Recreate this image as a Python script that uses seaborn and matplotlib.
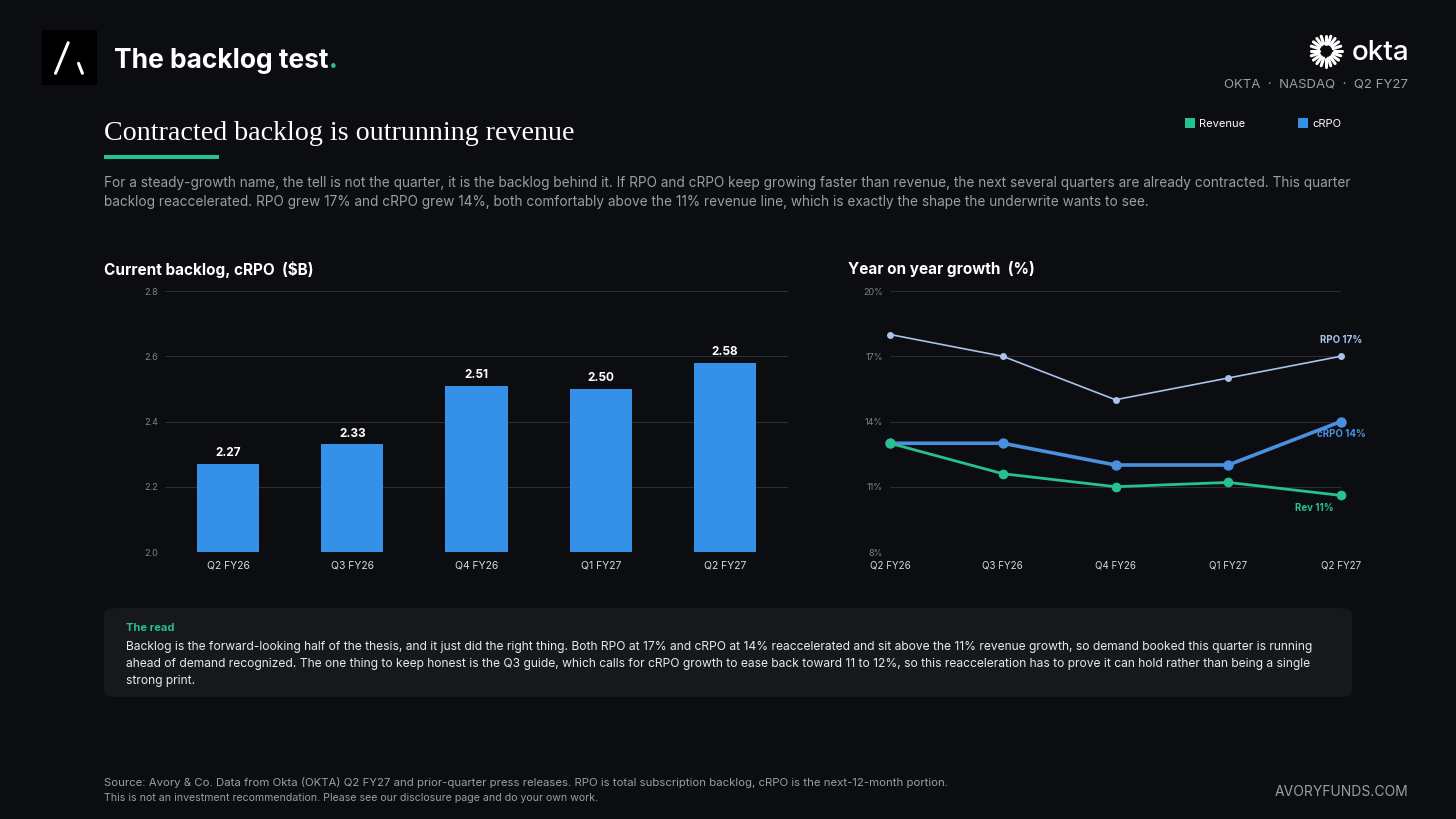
import numpy as np
import pandas as pd
import seaborn as sns
import matplotlib as mpl
from matplotlib import pyplot as plt
from matplotlib.patches import FancyBboxPatch, Rectangle

# data
quarters = ['Q2 FY26', 'Q3 FY26', 'Q4 FY26', 'Q1 FY27', 'Q2 FY27']
crpo_bn = [2.27, 2.33, 2.51, 2.50, 2.58]
rpo_growth = [18, 17, 15, 16, 17]
crpo_growth = [13, 13, 12, 12, 14]
rev_growth = [13, 11.6, 11, 11.2, 10.6]
bar_ticks = [2.0, 2.2, 2.4, 2.6, 2.8]
growth_ticks = [8, 11, 14, 17, 20]

BG = '#0c0d10'
GREEN = '#27c08f'
BLUE = '#3590e8'
CRPO_BLUE = '#4a8fe0'
RPO_BLUE = '#a9c2ec'
GRID = '#2a2d33'
GREY = '#9a9ea6'

sns.set_theme(style='dark')
plt.rcParams['font.family'] = ['Inter', 'DejaVu Sans']

W, H = 1456, 819
fig = plt.figure(figsize=(W / 100, H / 100), dpi=100, facecolor=BG)


def px(x, y):
    return x / W, 1 - y / H


def box(l, t, r, b):
    return [l / W, 1 - b / H, (r - l) / W, (b - t) / H]


def style_axes(ax):
    ax.set_facecolor(BG)
    for s in ax.spines.values():
        s.set_visible(False)
    ax.grid(axis='y', color=GRID, linewidth=0.8)
    ax.grid(axis='x', visible=False)
    ax.set_axisbelow(True)
    ax.set_xlabel('')
    ax.set_ylabel('')
    ax.tick_params(axis='y', colors='#7d828b', labelsize=6.5, length=0, pad=5)
    ax.tick_params(axis='x', colors='#d6d9de', labelsize=7.5, length=0, pad=6)


# ---- header ----
fig.patches.append(Rectangle(px(42, 85), 55 / W, 55 / H, transform=fig.transFigure,
                             facecolor='#000000', edgecolor='none'))
fig.lines.append(mpl.lines.Line2D([55.5 / W, 68.2 / W], [1 - 73.3 / H, 1 - 42.7 / H],
                                  transform=fig.transFigure, color='white', lw=2.2))
fig.lines.append(mpl.lines.Line2D([78.5 / W, 82.4 / W], [1 - 63.3 / H, 1 - 73.3 / H],
                                  transform=fig.transFigure, color='white', lw=2.2))

title = fig.text(*px(114, 61), 'The backlog test', color='white', fontsize=19,
                 fontweight='bold', va='center', ha='left')
fig.canvas.draw()
bb = title.get_window_extent()
fig.text(bb.x1 / W, 1 - 61 / H, '.', color=GREEN, fontsize=19, fontweight='bold',
         va='center', ha='left')

# okta mark
cx, cy = 1326, 51
for a in np.linspace(0, 2 * np.pi, 20, endpoint=False):
    x0, y0 = cx + 7.5 * np.cos(a), cy + 7.5 * np.sin(a)
    x1, y1 = cx + 15.5 * np.cos(a), cy + 15.5 * np.sin(a)
    fig.lines.append(mpl.lines.Line2D([x0 / W, x1 / W], [1 - y0 / H, 1 - y1 / H],
                                      transform=fig.transFigure, color='white', lw=2.2))
fig.text(*px(1409, 53), 'okta', color='white', fontsize=20, fontweight='medium',
         ha='right', va='center')
fig.text(*px(1408, 85), 'OKTA  ·  NASDAQ  ·  Q2 FY27', color=GREY, fontsize=9.5,
         ha='right', va='center')

fig.text(*px(104, 134), 'Contracted backlog is outrunning revenue', color='white',
         fontsize=20.2, family='Liberation Serif', va='center', ha='left')
fig.patches.append(Rectangle(px(104, 159), 115 / W, 4 / H, transform=fig.transFigure,
                             facecolor=GREEN, edgecolor='none'))

# legend
fig.patches.append(Rectangle(px(1185, 128), 10 / W, 10 / H, transform=fig.transFigure,
                             facecolor=GREEN, edgecolor='none'))
fig.text(*px(1199, 124), 'Revenue', color='white', fontsize=8, va='center')
fig.patches.append(Rectangle(px(1298, 128), 10 / W, 10 / H, transform=fig.transFigure,
                             facecolor=BLUE, edgecolor='none'))
fig.text(*px(1312, 124), 'cRPO', color='white', fontsize=8, va='center')

intro = [
    'For a steady-growth name, the tell is not the quarter, it is the backlog behind it. '
    'If RPO and cRPO keep growing faster than revenue, the next several quarters are already contracted. This quarter',
    'backlog reaccelerated. RPO grew 17% and cRPO grew 14%, both comfortably above the 11% '
    'revenue line, which is exactly the shape the underwrite wants to see.',
]
for i, line in enumerate(intro):
    fig.text(*px(104, 183 + 19 * i), line, color=GREY, fontsize=9.8, va='center')

# ---- bar chart ----
fig.text(*px(104, 269), 'Current backlog, cRPO  ($B)', color='white', fontsize=11,
         fontweight='bold', va='center')
ax1 = fig.add_axes(box(165, 291, 788, 552))
bars = pd.DataFrame({'quarter': quarters, 'crpo': crpo_bn})
sns.barplot(data=bars, x='quarter', y='crpo', color=BLUE, saturation=1, width=0.5,
            linewidth=0, ax=ax1)
style_axes(ax1)
ax1.set_ylim(2.0, 2.8)
ax1.set_yticks(bar_ticks)
ax1.set_yticklabels([f'{t:.1f}' for t in bar_ticks])
ax1.set_xlim(-0.507, 4.507)
for i, v in enumerate(crpo_bn):
    ax1.annotate(f'{v:.2f}', (i, v), xytext=(0, 7.5), textcoords='offset points',
                 ha='center', va='center', color='white', fontsize=8.5, fontweight='bold')

# ---- growth lines ----
fig.text(*px(848, 269), 'Year on year growth  (%)', color='white', fontsize=11,
         fontweight='bold', va='center')
ax2 = fig.add_axes(box(890, 291, 1341, 552))
growth = pd.DataFrame({'quarter': quarters, 'rpo': rpo_growth,
                       'crpo': crpo_growth, 'rev': rev_growth})
sns.lineplot(data=growth, x='quarter', y='rpo', color=RPO_BLUE, lw=1.2, marker='o',
             markersize=5, markeredgewidth=0, ax=ax2, clip_on=False)
sns.lineplot(data=growth, x='quarter', y='crpo', color=CRPO_BLUE, lw=2.6, marker='o',
             markersize=7.5, markeredgewidth=0, ax=ax2, clip_on=False)
sns.lineplot(data=growth, x='quarter', y='rev', color=GREEN, lw=2, marker='o',
             markersize=7, markeredgewidth=0, ax=ax2, clip_on=False)
style_axes(ax2)
ax2.set_ylim(8, 20)
ax2.set_yticks(growth_ticks)
ax2.set_yticklabels([f'{t}%' for t in growth_ticks])
ax2.set_xlim(0, 4)
ax2.tick_params(axis='x', labelsize=7, pad=6)
ax2.annotate(f'RPO {rpo_growth[-1]}%', (4, rpo_growth[-1]), xytext=(0, 12),
             textcoords='offset points', ha='center', va='center', color=RPO_BLUE,
             fontsize=7, fontweight='bold', annotation_clip=False)
ax2.annotate(f'cRPO {crpo_growth[-1]}%', (4, crpo_growth[-1]), xytext=(0, -9),
             textcoords='offset points', ha='center', va='center', color=CRPO_BLUE,
             fontsize=7, fontweight='bold', annotation_clip=False)
ax2.annotate('Rev 11%', (4, rev_growth[-1]), xytext=(-19, -9),
             textcoords='offset points', ha='center', va='center', color=GREEN,
             fontsize=7, fontweight='bold', annotation_clip=False)

# ---- the read ----
fig.patches.append(FancyBboxPatch(px(104, 697), 1248 / W, 89 / H,
                                  boxstyle='round,pad=0,rounding_size=0.008',
                                  transform=fig.transFigure, facecolor='#16181c',
                                  edgecolor='none'))
fig.text(*px(126, 628), 'The read', color=GREEN, fontsize=8, fontweight='bold', va='center')
read = [
    'Backlog is the forward-looking half of the thesis, and it just did the right thing. '
    'Both RPO at 17% and cRPO at 14% reaccelerated and sit above the 11% revenue growth, so demand booked this quarter is running',
    'ahead of demand recognized. The one thing to keep honest is the Q3 guide, which calls for '
    'cRPO growth to ease back toward 11 to 12%, so this reacceleration has to prove it can hold rather than being a single',
    'strong print.',
]
for i, line in enumerate(read):
    fig.text(*px(126, 647 + 17 * i), line, color='#e6e8eb', fontsize=8.7, va='center')

# ---- footer ----
fig.text(*px(104, 783), 'Source: Avory & Co. Data from Okta (OKTA) Q2 FY27 and prior-quarter '
         'press releases. RPO is total subscription backlog, cRPO is the next-12-month portion.',
         color=GREY, fontsize=8.2, va='center')
fig.text(*px(104, 798), 'This is not an investment recommendation. Please see our disclosure '
         'page and do your own work.', color=GREY, fontsize=7.6, va='center')
fig.text(*px(1408, 792), 'AVORYFUNDS.COM', color=GREY, fontsize=10, ha='right', va='center')

fig.savefig('out.png', dpi=100, facecolor=BG)
